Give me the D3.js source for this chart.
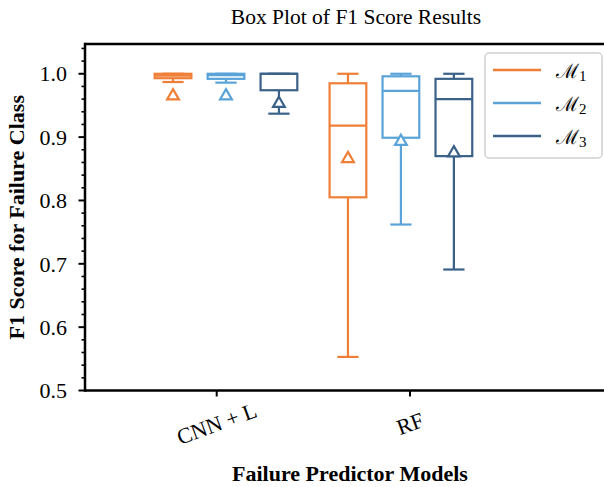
<!DOCTYPE html>
<html>
<head>
<meta charset="utf-8">
<script src="https://cdn.jsdelivr.net/npm/d3@7"></script>
<style>
  html, body { margin: 0; padding: 0; background: #fff; }
  svg { display: block; font-family: "Liberation Serif", "Times New Roman", serif; }
</style>
</head>
<body>
<svg id="chart" width="604" height="487"></svg>
<script>
// Predictor models on the x axis
const categories = ["CNN + L", "RF"];
// Model variants, one box per variant in each group
const series = ["M1", "M2", "M3"];
const seriesSub = ["1", "2", "3"];
const colors = ["#ef7f37", "#5aa3d8", "#3a6288"];

// Five-number summaries and means: [CNN + L, RF] for each variant
const whiskerLow = [[0.987, 0.553], [0.986, 0.762], [0.937, 0.691]];
const q1 =         [[0.993, 0.805], [0.992, 0.899], [0.974, 0.870]];
const median =     [[0.997, 0.918], [0.998, 0.973], [1.000, 0.960]];
const q3 =         [[1.000, 0.985], [1.000, 0.996], [1.000, 0.992]];
const whiskerHigh =[[1.000, 1.000], [1.000, 1.000], [1.000, 1.000]];
const means =      [[0.965, 0.866], [0.965, 0.893], [0.953, 0.875]];

const yTicks = [0.5, 0.6, 0.7, 0.8, 0.9, 1.0];

const svg = d3.select("#chart");
const W = 604, H = 487;
const padLeft = 85, padTop = 44, padBottom = 390.5;

// x positions in group units: ticks at 1 and 2
const x = d3.scaleLinear().domain([1, 2]).range([216.7, 410]);
const y = d3.scaleLinear().domain([0.5, 1.047]).range([padBottom, padTop]);

const groupCenter = [1.048, 1.953];
const seriesOffset = [-0.274, 0, 0.274];
const boxWidth = 0.19;   // in x units
const capWidth = 0.11;

// Minor y ticks every 0.02
const minor = d3.range(0.52, 1.047, 0.02).filter(v => Math.abs(v * 10 - Math.round(v * 10)) > 1e-6);
svg.append("g").selectAll("line").data(minor).join("line")
  .attr("x1", padLeft).attr("x2", padLeft - 3.5)
  .attr("y1", d => y(d)).attr("y2", d => y(d))
  .attr("stroke", "#000").attr("stroke-width", 1.6);

// Major y ticks and labels
const yAxis = svg.append("g");
yAxis.selectAll("line").data(yTicks).join("line")
  .attr("x1", padLeft).attr("x2", padLeft - 6.5)
  .attr("y1", d => y(d)).attr("y2", d => y(d))
  .attr("stroke", "#000").attr("stroke-width", 2);
yAxis.selectAll("text").data(yTicks).join("text")
  .attr("x", padLeft - 18).attr("y", d => y(d)).attr("dy", "0.35em")
  .attr("text-anchor", "end").attr("font-size", 22)
  .text(d => d3.format(".1f")(d));

// x ticks and rotated labels
const xAxis = svg.append("g");
xAxis.selectAll("line").data(categories).join("line")
  .attr("x1", (d, i) => x(i + 1)).attr("x2", (d, i) => x(i + 1))
  .attr("y1", padBottom).attr("y2", padBottom + 6)
  .attr("stroke", "#000").attr("stroke-width", 2);
xAxis.selectAll("text").data(categories).join("text")
  .attr("transform", (d, i) => `translate(${x(i + 1)},${padBottom + 33}) rotate(-20)`)
  .attr("text-anchor", "middle").attr("dy", "0.35em").attr("font-size", 22)
  .text(d => d);

// Boxes
const plot = svg.append("g");
series.forEach((s, si) => {
  categories.forEach((c, ci) => {
    const cx = groupCenter[ci] + seriesOffset[si];
    const g = plot.append("g")
      .attr("stroke", colors[si]).attr("stroke-width", 2.2).attr("fill", "none");
    const xc = x(cx);
    const half = (x(cx + boxWidth / 2) - x(cx - boxWidth / 2)) / 2;
    const capHalf = (x(cx + capWidth / 2) - x(cx - capWidth / 2)) / 2;
    // whiskers
    g.append("line").attr("x1", xc).attr("x2", xc)
      .attr("y1", y(q1[si][ci])).attr("y2", y(whiskerLow[si][ci]));
    g.append("line").attr("x1", xc).attr("x2", xc)
      .attr("y1", y(q3[si][ci])).attr("y2", y(whiskerHigh[si][ci]));
    // caps
    [whiskerLow[si][ci], whiskerHigh[si][ci]].forEach(v => {
      g.append("line").attr("x1", xc - capHalf).attr("x2", xc + capHalf)
        .attr("y1", y(v)).attr("y2", y(v));
    });
    // box
    g.append("rect")
      .attr("x", xc - half).attr("width", 2 * half)
      .attr("y", y(q3[si][ci])).attr("height", y(q1[si][ci]) - y(q3[si][ci]));
    // median
    g.append("line").attr("x1", xc - half).attr("x2", xc + half)
      .attr("y1", y(median[si][ci])).attr("y2", y(median[si][ci]));
    // mean marker (hollow triangle)
    const my = y(means[si][ci]);
    const tri = d3.symbol().type(d3.symbolTriangle).size(60);
    g.append("path").attr("d", tri())
      .attr("transform", `translate(${xc},${my})`)
      .attr("fill", "#fff").attr("stroke-width", 2.2);
  });
});

// Spines: left, bottom and top (right edge runs past the canvas)
svg.append("line").attr("x1", padLeft).attr("x2", padLeft).attr("y1", padTop - 1.2).attr("y2", padBottom + 1.2)
  .attr("stroke", "#000").attr("stroke-width", 2.5);
svg.append("line").attr("x1", padLeft).attr("x2", W).attr("y1", padBottom).attr("y2", padBottom)
  .attr("stroke", "#000").attr("stroke-width", 2.5);
svg.append("line").attr("x1", padLeft).attr("x2", W).attr("y1", padTop).attr("y2", padTop)
  .attr("stroke", "#000").attr("stroke-width", 2.5);

// Legend
const lg = svg.append("g").attr("transform", "translate(485,53)");
lg.append("rect").attr("width", 117).attr("height", 105).attr("rx", 4)
  .attr("fill", "#fff").attr("fill-opacity", 0.85).attr("stroke", "#d0d0d0").attr("stroke-width", 1.5);
series.forEach((s, i) => {
  const ly = 17 + i * 33;
  lg.append("line").attr("x1", 8).attr("x2", 56).attr("y1", ly).attr("y2", ly)
    .attr("stroke", colors[i]).attr("stroke-width", 2.5);
  const t = lg.append("text").attr("x", 71).attr("y", ly).attr("dy", "0.35em")
    .attr("font-size", 22).attr("font-family", "DejaVu Serif");
  t.append("tspan").attr("font-size", 20).text("\u2133");
  t.append("tspan").attr("font-size", 15).attr("font-family", "Liberation Serif").attr("dy", "0.25em").text(seriesSub[i]);
});

// Titles
svg.append("text").attr("x", 356).attr("y", 24).attr("text-anchor", "middle")
  .attr("font-size", 21.5).text("Box Plot of F1 Score Results");
svg.append("text").attr("x", 350).attr("y", 481).attr("text-anchor", "middle")
  .attr("font-size", 22).attr("font-weight", "bold").text("Failure Predictor Models");
svg.append("text").attr("transform", `translate(24,${(padTop + padBottom) / 2}) rotate(-90)`)
  .attr("text-anchor", "middle").attr("font-size", 22).attr("font-weight", "bold")
  .text("F1 Score for Failure Class");
</script>
</body>
</html>
